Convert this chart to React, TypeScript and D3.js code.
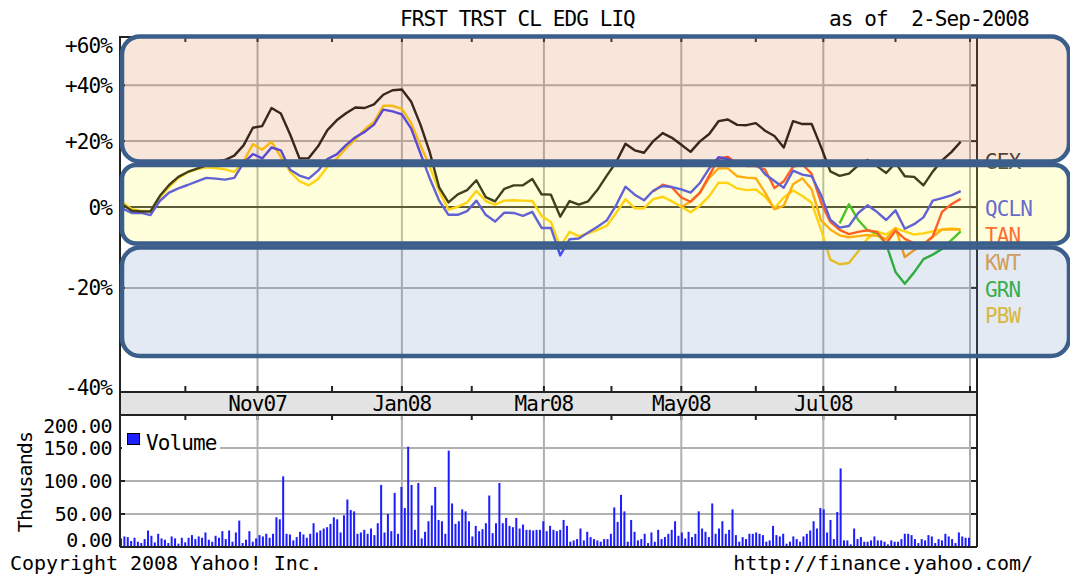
import React from "react";
import * as d3 from "d3";

const W = 1070;
const H = 577;
const FONT = "'DejaVu Sans Mono', 'Liberation Mono', monospace";

// x axis: one sample every 4 calendar days from the first day of the chart
const START = new Date(2007, 8, 4);
const END = new Date(2008, 8, 2);
const SAMPLE_DATES = d3.timeDay.range(START, END, 4);

// percent change
const GEX = [0.7, -1.0, -1.2, -1.2, 3.1, 6.3, 8.7, 10.2, 11.2, 12.2,
  13.4, 13.9, 15.3, 18.6, 24.5, 25.1, 31.5, 29.5, 22.2, 14.4,
  14.5, 18.3, 23.7, 27.1, 29.6, 31.7, 31.5, 32.8, 36.4, 38.1,
  38.4, 33.8, 25.5, 16.3, 5.6, 1.3, 3.6, 4.8, 7.7, 2.8,
  1.6, 5.2, 6.2, 6.2, 8.1, 3.6, 3.5, -2.6, 1.7, 0.7,
  1.6, 4.9, 9.1, 13.2, 19.1, 17.0, 16.2, 20.0, 22.7, 21.1,
  18.8, 16.5, 19.9, 22.4, 26.8, 27.4, 25.5, 25.4, 26.1, 23.5,
  21.7, 17.9, 26.8, 25.8, 25.8, 18.1, 10.4, 9.0, 9.7, 12.2,
  13.9, 12.0, 9.9, 13.0, 8.9, 8.7, 6.2, 10.3, 13.8, 16.4, 19.8];

const QCLN = [-0.4, -1.6, -1.6, -2.2, 1.7, 4.1, 5.3, 6.3, 7.4, 8.4,
  8.2, 7.9, 8.4, 13.0, 15.8, 14.4, 17.9, 17.0, 10.9, 9.1,
  8.2, 10.6, 14.2, 15.7, 18.7, 21.3, 23.1, 25.6, 30.9, 30.3,
  29.2, 24.2, 15.9, 8.2, 1.8, -2.1, -2.1, -1.1, 1.8, -2.1,
  -3.9, -1.5, -1.6, -2.4, -1.3, -5.6, -5.6, -12.5, -8.5, -8.3,
  -6.8, -5.3, -3.6, 0.5, 5.8, 3.5, 1.9, 4.7, 6.0, 5.7,
  5.0, 4.1, 6.9, 11.3, 14.8, 14.2, 12.2, 12.5, 13.1, 9.5,
  7.5, 5.5, 10.6, 9.4, 8.9, 3.4, -3.4, -5.5, -5.1, -1.6,
  0.5, -1.3, -3.5, -0.9, -5.8, -4.6, -2.8, 1.8, 2.5, 3.3, 4.5];

const PBW = [1.3, -0.6, -1.0, -1.1, 2.7, 5.7, 8.4, 10.1, 11.1, 11.6,
  11.4, 11.0, 10.2, 13.5, 19.0, 17.2, 19.8, 14.9, 10.2, 7.4,
  6.2, 8.1, 11.8, 14.3, 17.7, 20.6, 23.9, 26.5, 32.3, 32.3,
  31.2, 26.1, 18.6, 11.8, 4.5, -0.7, 0.1, 1.3, 4.6, 1.7,
  0.7, 1.8, 1.9, 1.8, 1.7, -2.4, -4.0, -10.4, -6.6, -7.7,
  -7.0, -6.1, -5.0, -1.6, 2.2, -0.3, -0.3, 2.2, 2.9, 1.6,
  0.1, -1.4, 0.4, 3.1, 7.0, 6.9, 5.3, 4.8, 5.0, 2.9,
  -0.3, 2.7, 4.7, 3.1, 1.2, -6.0, -13.5, -14.6, -14.3, -11.5,
  -8.3, -6.5, -7.3, -5.7, -6.5, -7.3, -7.0, -6.5, -6.0, -5.7, -6.0];

// later listings: first sample index, then values
const TAN_FROM = 57;
const TAN = [4.4, 6.4, 5.6, 2.7, 1.5, 4.1, 9.1, 14.4, 14.9, 12.7,
  12.0, 12.0, 10.9, 5.4, 7.4, 11.8, 12.6, 9.6, 1.3, -4.0,
  -6.1, -7.2, -6.6, -6.2, -6.6, -9.5, -6.3, -8.4, -9.5, -9.8, -7.8, -1.3, 0.8, 2.3];

const KWT_FROM = 60;
const KWT = [0.1, 1.5, 4.0, 8.5, 11.3, 11.3, 8.9, 8.5, 8.3, 4.1,
  -0.6, 0.4, 6.5, 8.3, 5.0, -3.6, -6.0, -7.5, -8.0, -7.7,
  -7.4, -7.6, -8.4, -5.6, -12.9, -11.2, -9.8, -7.9, -6.0, -6.0, -6.0];

const GRN_FROM = 77;
const GRN = [-4.4, 0.8, -3.5, -6.2, -6.9, -9.7, -16.4, -19.1, -16.5, -13.4, -12.3, -10.9, -8.7, -6.5];

// daily volume, thousands (Sep-07 .. Sep-08)
const VOLUME = [
  13, 16, 15, 9, 14, 8, 6, 12, 25, 17, 7, 20, 13, 11, 6, 16, 13, 5, 14,
  7, 14, 18, 12, 16, 14, 22, 11, 8, 17, 14, 24, 12, 25, 8, 22, 40, 6, 11, 24, 8, 13, 18,
  16, 20, 14, 20, 45, 42, 107, 20, 19, 10, 15, 23, 19, 14, 20, 36, 22, 25, 28, 30, 35,
  45, 42, 22, 48, 72, 56, 54, 20, 22, 26, 20, 28, 18, 36, 94, 22, 50, 24, 82, 20,
  91, 59, 152, 94, 26, 97, 13, 23, 39, 63, 91, 41, 39, 20, 146, 66, 35, 39, 57, 54, 39,
  16, 32, 24, 27, 36, 78, 21, 36, 97, 36, 44, 32, 30, 44, 28, 34, 26, 26, 25, 26,
  26, 39, 24, 32, 26, 24, 26, 41, 32, 8, 10, 12, 28, 10, 23, 15, 12, 10, 8, 12,
  12, 20, 60, 38, 79, 54, 8, 41, 23, 10, 12, 20, 6, 22, 8, 26, 12, 15, 20, 26, 39, 17,
  22, 13, 23, 15, 20, 54, 28, 23, 15, 66, 20, 28, 39, 20, 26, 57, 18, 8, 15, 12, 20,
  20, 22, 20, 18, 8, 10, 32, 18, 16, 20, 5, 8, 16, 12, 8, 16, 20, 25, 39, 28, 59,
  57, 22, 41, 12, 53, 119, 10, 10, 4, 28, 12, 15, 8, 8, 10, 16, 10, 10, 8, 4, 10, 8,
  8, 12, 20, 20, 18, 12, 6, 12, 10, 18, 16, 6, 12, 10, 20, 16, 12, 6, 22, 16, 14,
  14,
];

const PCT_TICKS = [60, 40, 20, 0, -20, -40];
const PCT_LABELS = ["+60%", "+40%", "+20%", "0%", "-20%", "-40%"];
const VOL_TICKS = [200, 150, 100, 50, 0];
const VOL_LABELS = ["200.00", "150.00", "100.00", "50.00", "0.00"];
const MONTH_DATES = ["2007-10-01", "2007-11-01", "2007-12-03", "2008-01-02", "2008-02-01", "2008-03-03",
  "2008-04-01", "2008-05-01", "2008-06-02", "2008-07-01", "2008-08-01", "2008-09-02"];
const MONTH_LABELS = ["", "Nov07", "", "Jan08", "", "Mar08", "", "May08", "", "Jul08", "", ""];

const SERIES = [
  { name: "PBW", values: PBW, from: 0, color: "#ffc800" },
  { name: "KWT", values: KWT, from: KWT_FROM, color: "#ff9900" },
  { name: "GRN", values: GRN, from: GRN_FROM, color: "#1fb31f" },
  { name: "TAN", values: TAN, from: TAN_FROM, color: "#ff3a1a" },
  { name: "QCLN", values: QCLN, from: 0, color: "#3b3bf5" },
  { name: "GEX", values: GEX, from: 0, color: "#111111" },
];
const LEGEND = [
  { name: "GEX", color: "#333333", y: 161 },
  { name: "QCLN", color: "#4545ee", y: 208.5 },
  { name: "TAN", color: "#ff4a2a", y: 235 },
  { name: "KWT", color: "#e8a040", y: 262 },
  { name: "GRN", color: "#2db52d", y: 289 },
  { name: "PBW", color: "#f2c21a", y: 315 },
];

const parse = d3.timeParse("%Y-%m-%d");

export default function App() {
  const L = 120, R = 977;
  const x = d3.scaleTime().domain([START, END]).range([122.5, 970]);
  const y = d3.scaleLog().domain([0.6, 1.6]).range([392, 37]);
  const vy = d3.scaleLinear().domain([0, 200]).range([547, 415]);
  const vx = d3.scaleLinear().domain([0, VOLUME.length - 1]).range([121, 969]);
  const months = MONTH_DATES.map((d) => parse(d) as Date);

  const line = d3
    .line<[Date, number]>()
    .x((d) => x(d[0]))
    .y((d) => y(1 + d[1] / 100));

  const grid = "#b0b0b0";
  const dark = "#222";

  return (
    <svg width={W} height={H} style={{ display: "block", position: "absolute", left: 0, top: 0 }}
      fontFamily={FONT}>
      <rect width={W} height={H} fill="#fff" />

      {/* title */}
      <text x={400} y={26} fontSize={21} letterSpacing={-0.9}>FRST TRST CL EDG LIQ</text>
      <text x={829} y={26} fontSize={21} letterSpacing={-0.9} style={{ whiteSpace: "pre" }}>as of  2-Sep-2008</text>

      {/* main panel grid */}
      {PCT_TICKS.filter((t) => t !== 0 && t !== 60 && t !== -40).map((t) => (
        <line key={t} x1={L} x2={R} y1={y(1 + t / 100)} y2={y(1 + t / 100)} stroke={grid} strokeWidth={2} />
      ))}
      {months.map((m, i) =>
        i % 2 === 1 ? (
          <line key={i} x1={x(m)} x2={x(m)} y1={37} y2={392} stroke={grid} strokeWidth={2} />
        ) : null
      )}
      <line x1={L} x2={R} y1={y(1)} y2={y(1)} stroke="#333" strokeWidth={2} />

      {/* ticks */}
      {months.map((m, i) => (
        <g key={i} stroke={dark} strokeWidth={2}>
          <line x1={x(m)} x2={x(m)} y1={37} y2={42} />
          <line x1={x(m)} x2={x(m)} y1={392} y2={386} />
          <line x1={x(m)} x2={x(m)} y1={415} y2={420} />
        </g>
      ))}
      {PCT_TICKS.map((t) => (
        <g key={t} stroke={dark} strokeWidth={2}>
          <line x1={L} x2={L + 5} y1={y(1 + t / 100)} y2={y(1 + t / 100)} />
          <line x1={R - 6} x2={R} y1={y(1 + t / 100)} y2={y(1 + t / 100)} />
        </g>
      ))}

      {/* x label band */}
      <rect x={L} y={392} width={R - L} height={23} fill="#e3e3e3" />
      {months.map((m, i) =>
        MONTH_LABELS[i] ? (
          <text key={i} x={x(m)} y={411} fontSize={21} letterSpacing={-0.9} textAnchor="middle">
            {MONTH_LABELS[i]}
          </text>
        ) : null
      )}

      {/* y labels */}
      {PCT_TICKS.map((t, i) => (
        <text key={t} x={112} y={Math.min(Math.max(y(1 + t / 100), 45), 387)} dy="0.36em"
          fontSize={21} letterSpacing={-0.9} textAnchor="end">
          {PCT_LABELS[i]}
        </text>
      ))}

      {/* series */}
      {SERIES.map((s) => (
        <path key={s.name}
          d={line(s.values.map((v, i) => [SAMPLE_DATES[s.from + i], v] as [Date, number])) || ""}
          fill="none" stroke={s.color} strokeWidth={2.4} strokeLinejoin="round" />
      ))}

      {/* volume panel */}
      {VOL_TICKS.filter((t) => t > 0 && t < 200).map((t) => (
        <line key={t} x1={L} x2={R} y1={vy(t)} y2={vy(t)} stroke={grid} strokeWidth={2} />
      ))}
      {months.map((m, i) =>
        i % 2 === 1 ? (
          <line key={i} x1={x(m)} x2={x(m)} y1={415} y2={547} stroke={grid} strokeWidth={2} />
        ) : null
      )}
      {VOL_TICKS.map((t) => (
        <g key={t} stroke={dark} strokeWidth={2}>
          <line x1={L} x2={L + 5} y1={vy(t)} y2={vy(t)} />
          <line x1={R - 6} x2={R} y1={vy(t)} y2={vy(t)} />
        </g>
      ))}
      {VOLUME.map((v, i) => (
        <rect key={i} x={vx(i) - 1} y={vy(v)} width={2} height={vy(0) - vy(v)} fill="#1c1cff" />
      ))}
      <rect x={122} y={428} width={98} height={25} fill="#fff" />
      <rect x={127.5} y={433.5} width={12} height={11} fill="#1f1fff" stroke="#000" strokeWidth={1} />
      <text x={146} y={450} fontSize={21} letterSpacing={-0.9}>Volume</text>

      {VOL_TICKS.map((t, i) => (
        <text key={t} x={112} y={Math.min(Math.max(vy(t), 426), 540)} dy="0.36em"
          fontSize={20} letterSpacing={-0.6} textAnchor="end">
          {VOL_LABELS[i]}
        </text>
      ))}
      <text transform="translate(32,482) rotate(-90)" fontSize={20} letterSpacing={-0.9} textAnchor="middle">
        Thousands
      </text>

      {/* frames */}
      <g stroke={dark} strokeWidth={2} fill="none">
        <rect x={L} y={37} width={R - L} height={355} />
        <line x1={L} x2={R} y1={415} y2={415} />
        <line x1={L} x2={R} y1={547} y2={547} />
        <line x1={L} x2={L} y1={392} y2={547} />
        <line x1={R} x2={R} y1={392} y2={547} />
      </g>

      {/* legend labels */}
      {LEGEND.map((l) => (
        <text key={l.name} x={985} y={l.y} dy="0.36em" fontSize={21} letterSpacing={-0.9} fill={l.color}>
          {l.name}
        </text>
      ))}

      {/* footer */}
      <text x={10} y={570} fontSize={20} letterSpacing={-0.05}>Copyright 2008 Yahoo! Inc.</text>
      <text x={1033} y={570} fontSize={20} letterSpacing={-0.05} textAnchor="end">http://finance.yahoo.com/</text>

      {/* highlight bands */}
      <g strokeWidth={4.5} stroke="#3b5e8a">
        <rect x={122} y={36.5} width={947} height={125} rx={18} fill="#dc8246" fillOpacity={0.2} />
        <rect x={122} y={165} width={947} height={78.5} rx={14} fill="#ffff50" fillOpacity={0.2} />
        <rect x={122} y={247.5} width={947} height={108.5} rx={18} fill="#7396c8" fillOpacity={0.2} />
      </g>
    </svg>
  );
}
